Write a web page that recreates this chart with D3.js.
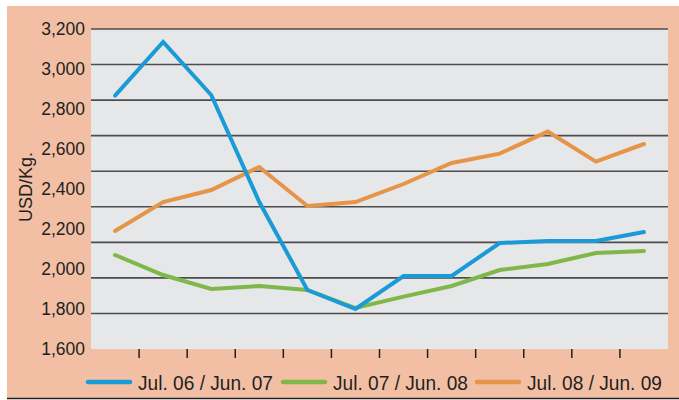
<!DOCTYPE html>
<html>
<head>
<meta charset="utf-8">
<script src="https://cdn.jsdelivr.net/npm/d3@7"></script>
<style>
  body { margin: 0; background: #ffffff; }
  svg { display: block; font-family: "Liberation Sans", Arial, sans-serif; }
</style>
</head>
<body>
<div id="chart"></div>
<script>
const months = ["Jul", "Aug", "Sep", "Oct", "Nov", "Dec", "Jan", "Feb", "Mar", "Apr", "May", "Jun"];
const yTicks = [1600, 1800, 2000, 2200, 2400, 2600, 2800, 3000, 3200];

const season0607 = [2867, 3135, 2870, 2335, 1895, 1800, 1965, 1965, 2130, 2140, 2140, 2185];
const season0708 = [2070, 1970, 1900, 1915, 1895, 1805, 1862, 1915, 1995, 2025, 2080, 2090];
const season0809 = [2190, 2335, 2395, 2510, 2315, 2335, 2425, 2530, 2577, 2687, 2537, 2625];

const seriesNames = ["Jul. 06 / Jun. 07", "Jul. 07 / Jun. 08", "Jul. 08 / Jun. 09"];
const seriesColors = ["#1a9ad7", "#80b74a", "#e69447"];

const W = 679, H = 400;
const margin = {top: 29, right: 11, bottom: 51, left: 91};
const width = W - margin.left - margin.right;
const height = H - margin.top - margin.bottom;

const svg = d3.select("#chart").append("svg")
  .attr("width", W)
  .attr("height", H);

// salmon frame
svg.append("rect")
  .attr("x", 7).attr("y", 6)
  .attr("width", W - 7).attr("height", H - 8)
  .attr("fill", "#f2bfa5");
svg.append("line")
  .attr("x1", 7).attr("x2", W)
  .attr("y1", H - 1.5).attr("y2", H - 1.5)
  .attr("stroke", "#231f20").attr("stroke-width", 1.5);

const g = svg.append("g")
  .attr("transform", `translate(${margin.left},${margin.top})`);

const x = d3.scaleBand().domain(months).range([0, width]);
const y = d3.scaleLinear().domain([1600, 3200]).range([height, 0]);

g.append("rect")
  .attr("width", width)
  .attr("height", height)
  .attr("fill", "#e6e7e8");

// gridlines in the original are evenly split into 9 bands, not on the labels
const gridVals = d3.range(1, 10).map(k => 1600 + k * 1600 / 9);
g.selectAll(".grid")
  .data(gridVals)
  .enter().append("line")
  .attr("x1", 0).attr("x2", width)
  .attr("y1", d => y(d)).attr("y2", d => y(d))
  .attr("stroke", "#4d4d4f")
  .attr("stroke-width", 1.6);

// y axis labels
const yAxis = g.append("g")
  .call(d3.axisLeft(y).tickValues(yTicks).tickFormat(d3.format(",")).tickSize(0).tickPadding(6));
yAxis.select(".domain").remove();
yAxis.selectAll("text")
  .attr("font-size", "17.5px")
  .attr("fill", "#231f20")
  .attr("font-family", "Liberation Sans, Arial, sans-serif");

// x axis ticks at the band boundaries
const xAxis = g.append("g")
  .attr("transform", `translate(0,${height})`)
  .call(d3.axisBottom(x).tickValues(months.slice(1)).tickSize(9).tickFormat(""));
xAxis.select(".domain").remove();
xAxis.selectAll(".tick line")
  .attr("transform", `translate(${-x.bandwidth() / 2},0)`)
  .attr("stroke", "#231f20")
  .attr("stroke-width", 1.5);

svg.append("text")
  .attr("transform", `translate(32,187) rotate(-90)`)
  .attr("text-anchor", "middle")
  .attr("font-size", "18px")
  .attr("fill", "#231f20")
  .text("USD/Kg.");

const line = d3.line()
  .x((d, i) => x(months[i]) + x.bandwidth() / 2)
  .y(d => y(d));

const seriesData = [season0607, season0708, season0809];
[1, 2, 0].forEach(i => {
  g.append("path")
    .datum(seriesData[i])
    .attr("d", line)
    .attr("fill", "none")
    .attr("stroke", seriesColors[i])
    .attr("stroke-width", 4)
    .attr("stroke-linecap", "round");
});

// legend
const legendX = [88, 283, 477];
const legend = svg.append("g").attr("transform", "translate(0,382)");
seriesNames.forEach((name, i) => {
  legend.append("line")
    .attr("x1", legendX[i]).attr("x2", legendX[i] + 42)
    .attr("y1", 0).attr("y2", 0)
    .attr("stroke", seriesColors[i])
    .attr("stroke-width", 4.5)
    .attr("stroke-linecap", "round");
  legend.append("text")
    .attr("x", legendX[i] + 50)
    .attr("y", 8)
    .attr("font-size", "21px")
    .attr("fill", "#231f20")
    .attr("textLength", 135)
    .attr("lengthAdjust", "spacingAndGlyphs")
    .text(name);
});
</script>
</body>
</html>
